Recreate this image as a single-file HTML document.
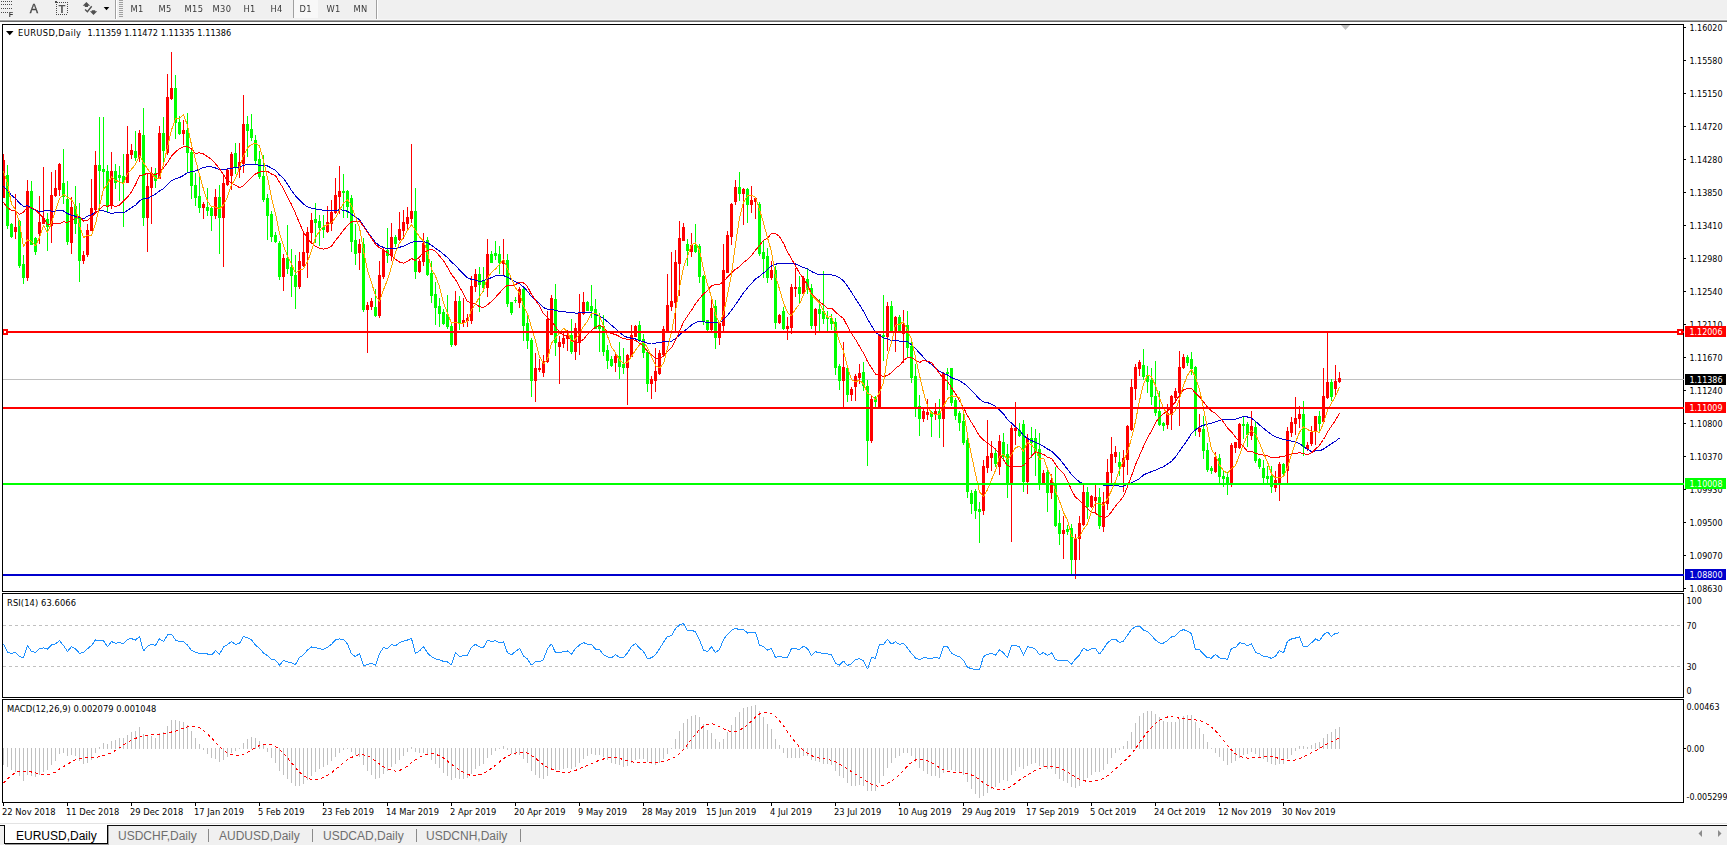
<!DOCTYPE html><html><head><meta charset="utf-8"><title>EURUSD,Daily</title><style>

html,body{margin:0;padding:0;background:#fff;overflow:hidden}
body{width:1727px;height:846px;position:relative;font-family:"Liberation Sans", sans-serif;font-size:9px;color:#000}
#tb{position:absolute;left:0;top:0;width:1727px;height:19px;background:#f0f0f0}
#tbl{position:absolute;left:0;top:19px;width:1727px;height:3px;background:linear-gradient(#f7f7f7 0,#f7f7f7 33.3%,#a6a6a6 33.4%,#a6a6a6 66.6%,#696969 66.7%,#696969 100%)}
.tf{position:absolute;top:3px;height:12px;line-height:12px;font-size:9.250px;color:#3a3a3a;white-space:nowrap;letter-spacing:0.350px;filter:grayscale(1);font-family:"DejaVu Sans Condensed", "Liberation Sans", sans-serif}
.sep{position:absolute;top:0;width:1px;background:#a0a0a0}
#cv{position:absolute;left:0;top:0}
.ax{position:absolute;left:1689.500px;height:12px;line-height:12px;font-size:8.900px;white-space:nowrap;font-family:"DejaVu Sans Condensed", "Liberation Sans", sans-serif}
.ax2{left:1686.500px}
.pb{position:absolute;left:1685px;width:41px;height:11px;line-height:12px;font-size:8.900px;color:#fff;white-space:nowrap;overflow:hidden;font-family:"DejaVu Sans Condensed", "Liberation Sans", sans-serif}
.pb span{display:inline-block;margin-left:4.500px}
.dt{position:absolute;top:806px;height:12px;line-height:12px;font-size:9.250px;white-space:nowrap;letter-spacing:0.020px;font-family:"DejaVu Sans Condensed", "Liberation Sans", sans-serif}
.ttl{position:absolute;height:12px;line-height:12px;font-size:9.250px;white-space:nowrap;font-family:"DejaVu Sans Condensed", "Liberation Sans", sans-serif}
#tabs{position:absolute;left:0;top:826px;width:1727px;height:19px;background:#f0f0f0}
#tabl{position:absolute;left:0;top:825px;width:1727px;height:1px;background:#111}
#tabl0{position:absolute;left:0;top:823px;width:1727px;height:1px;background:#e3e3e3}
#tab1{position:absolute;left:4px;top:825px;width:102px;height:18px;background:#fff;border:1px solid #000;border-top:none;box-shadow:1px 1px 0 #9a9a9a}
.tab{position:absolute;top:829px;height:15px;line-height:15px;font-size:12px;color:#6e6e6e;white-space:nowrap}
.tsep{position:absolute;top:829px;width:1px;height:13px;background:#8a8a8a}

</style></head><body>
<div id="tb"></div><div id="tbl"></div>
<svg id="ico" width="130" height="20" style="position:absolute;left:0;top:0;filter:grayscale(1)" shape-rendering="crispEdges">
<path fill="#4a4a4a" d="M1 1h1v1h-1zM3 1h1v1h-1zM5 1h1v1h-1zM7 1h1v1h-1zM9 1h1v1h-1zM11 1h1v1h-1zM1 4h1v1h-1zM3 4h1v1h-1zM5 4h1v1h-1zM7 4h1v1h-1zM9 4h1v1h-1zM11 4h1v1h-1zM1 8h1v1h-1zM3 8h1v1h-1zM5 8h1v1h-1zM7 8h1v1h-1zM9 8h1v1h-1zM11 8h1v1h-1zM1 12h1v1h-1zM3 12h1v1h-1zM5 12h1v1h-1zM7 12h1v1h-1z"/>
<path fill="#4a4a4a" d="M59 2h1v1h-1zM61 2h1v1h-1zM63 2h1v1h-1zM65 2h1v1h-1zM67 2h1v1h-1zM56 4h1v1h-1zM56 6h1v1h-1zM56 8h1v1h-1zM56 10h1v1h-1zM56 12h1v1h-1zM67 4h1v1h-1zM67 6h1v1h-1zM67 8h1v1h-1zM67 10h1v1h-1zM67 12h1v1h-1zM56 14h1v1h-1zM58 14h1v1h-1zM60 14h1v1h-1zM62 14h1v1h-1zM64 14h1v1h-1zM66 14h1v1h-1zM55 1h2v1h1v1h-3z"/>
<text x="8.800" y="17" font-family="Liberation Sans, sans-serif" font-weight="bold" font-size="7.200" fill="#3c3c3c">F</text>
<text x="62" y="12.900" font-family="Liberation Sans, sans-serif" font-weight="bold" font-size="11.300" text-anchor="middle" fill="#555">T</text>
<g fill="#505050" shape-rendering="auto">
<path d="M86.400 1.900L90.100 5.800H88V7H84.800V5.800H82.700z"/>
<path d="M93.500 15.100L97.200 11.300H95.200V10.200H91.800V11.300H89.900z"/>
<path d="M85.100 9.500l2.300 2.200l4.300 -5.400" stroke="#505050" stroke-width="1.400" fill="none"/>
<path d="M103.700 7h5.600l-2.800 3.200z" fill="#000"/>
</g>
<path fill="#a0a0a0" d="M119 0h4v1h-4zM119 2h4v1h-4zM119 4h4v1h-4zM119 6h4v1h-4zM119 8h4v1h-4zM119 10h4v1h-4zM119 12h4v1h-4zM119 14h4v1h-4zM119 16h4v1h-4z"/>
</svg>
<div class="tf" style="left:29.700px;top:1.500px;font-size:12.500px;height:14px;line-height:14px;color:#484848;-webkit-text-stroke:0.350px #484848;font-family:'Liberation Sans',sans-serif">A</div>
<div class="sep" style="left:115px;height:19px"></div><div class="sep" style="left:116px;height:19px;background:#fff"></div>
<div class="tf" style="left:130.5px">M1</div>
<div class="tf" style="left:158.5px">M5</div>
<div class="tf" style="left:184.5px">M15</div>
<div class="tf" style="left:212.5px">M30</div>
<div class="tf" style="left:243.5px">H1</div>
<div class="tf" style="left:270.5px">H4</div>
<div style="position:absolute;left:294px;top:0;width:24px;height:18px;background:#f8f8f8"></div>
<div class="tf" style="left:299.5px">D1</div>
<div class="tf" style="left:326.5px">W1</div>
<div class="tf" style="left:353.5px">MN</div>
<div class="sep" style="left:293px;height:18px"></div>
<div class="sep" style="left:376px;height:19px"></div><div class="sep" style="left:377px;height:19px;background:#fff"></div>
<svg id="cv" width="1727" height="846" viewBox="0 0 1727 846" shape-rendering="crispEdges">
<rect x="3" y="379" width="1680" height="1" fill="#c0c0c0"/>
<g><path fill="#ff0000" d="M3 154h1v44h-1zM2 160h3v38h-3z"/><path fill="#00ff00" d="M7 165h1v64h-1zM6 175h3v51h-3z"/><path fill="#00ff00" d="M11 223h1v15h-1zM10 224h3v13h-3z"/><path fill="#ff0000" d="M15 194h1v45h-1zM14 227h3v5h-3z"/><path fill="#00ff00" d="M19 220h1v48h-1zM18 221h3v45h-3z"/><path fill="#00ff00" d="M23 255h1v29h-1zM22 264h3v14h-3z"/><path fill="#ff0000" d="M27 180h1v101h-1zM26 191h3v87h-3z"/><path fill="#00ff00" d="M31 181h1v64h-1zM30 191h3v54h-3z"/><path fill="#00ff00" d="M35 237h1v18h-1zM34 238h3v14h-3z"/><path fill="#ff0000" d="M39 196h1v48h-1zM38 222h3v12h-3z"/><path fill="#ff0000" d="M43 167h1v57h-1zM42 218h3v6h-3z"/><path fill="#00ff00" d="M47 213h1v38h-1zM46 219h3v8h-3z"/><path fill="#ff0000" d="M51 172h1v71h-1zM50 195h3v31h-3z"/><path fill="#ff0000" d="M55 170h1v27h-1zM54 188h3v8h-3z"/><path fill="#ff0000" d="M59 163h1v33h-1zM58 164h3v26h-3z"/><path fill="#00ff00" d="M63 149h1v55h-1zM62 183h3v14h-3z"/><path fill="#00ff00" d="M67 181h1v64h-1zM66 199h3v43h-3z"/><path fill="#ff0000" d="M71 197h1v57h-1zM70 207h3v36h-3z"/><path fill="#00ff00" d="M75 186h1v48h-1zM74 206h3v18h-3z"/><path fill="#00ff00" d="M79 203h1v79h-1zM78 218h3v43h-3z"/><path fill="#ff0000" d="M83 251h1v13h-1zM82 255h3v6h-3z"/><path fill="#ff0000" d="M87 224h1v33h-1zM86 230h3v25h-3z"/><path fill="#ff0000" d="M91 179h1v52h-1zM90 208h3v23h-3z"/><path fill="#ff0000" d="M95 151h1v61h-1zM94 165h3v45h-3z"/><path fill="#00ff00" d="M99 117h1v94h-1zM98 165h3v6h-3z"/><path fill="#00ff00" d="M103 117h1v73h-1zM102 169h3v3h-3z"/><path fill="#00ff00" d="M107 165h1v48h-1zM106 171h3v36h-3z"/><path fill="#ff0000" d="M111 152h1v57h-1zM110 171h3v35h-3z"/><path fill="#00ff00" d="M115 164h1v25h-1zM114 171h3v12h-3z"/><path fill="#00ff00" d="M119 166h1v35h-1zM118 175h3v3h-3z"/><path fill="#00ff00" d="M123 154h1v73h-1zM122 176h3v7h-3z"/><path fill="#ff0000" d="M127 126h1v57h-1zM126 154h3v29h-3z"/><path fill="#ff0000" d="M131 144h1v15h-1zM130 150h3v5h-3z"/><path fill="#00ff00" d="M135 131h1v30h-1zM134 151h3v7h-3z"/><path fill="#ff0000" d="M139 130h1v32h-1zM138 133h3v24h-3z"/><path fill="#00ff00" d="M143 108h1v118h-1zM142 135h3v83h-3z"/><path fill="#ff0000" d="M147 174h1v78h-1zM146 186h3v32h-3z"/><path fill="#ff0000" d="M151 167h1v57h-1zM150 173h3v15h-3z"/><path fill="#00ff00" d="M155 168h1v20h-1zM154 173h3v8h-3z"/><path fill="#ff0000" d="M159 126h1v53h-1zM158 133h3v46h-3z"/><path fill="#00ff00" d="M163 117h1v47h-1zM162 133h3v18h-3z"/><path fill="#ff0000" d="M167 74h1v81h-1zM166 97h3v56h-3z"/><path fill="#ff0000" d="M171 52h1v48h-1zM170 88h3v11h-3z"/><path fill="#00ff00" d="M175 75h1v64h-1zM174 88h3v35h-3z"/><path fill="#00ff00" d="M179 116h1v19h-1zM178 122h3v12h-3z"/><path fill="#ff0000" d="M183 120h1v25h-1zM182 130h3v4h-3z"/><path fill="#00ff00" d="M187 113h1v60h-1zM186 130h3v23h-3z"/><path fill="#00ff00" d="M191 150h1v49h-1zM190 152h3v34h-3z"/><path fill="#00ff00" d="M195 173h1v33h-1zM194 185h3v13h-3z"/><path fill="#00ff00" d="M199 175h1v38h-1zM198 196h3v12h-3z"/><path fill="#ff0000" d="M203 202h1v17h-1zM202 204h3v4h-3z"/><path fill="#00ff00" d="M207 188h1v28h-1zM206 207h3v4h-3z"/><path fill="#00ff00" d="M211 206h1v25h-1zM210 208h3v8h-3z"/><path fill="#ff0000" d="M215 189h1v30h-1zM214 197h3v19h-3z"/><path fill="#00ff00" d="M219 185h1v69h-1zM218 197h3v21h-3z"/><path fill="#ff0000" d="M223 174h1v93h-1zM222 183h3v35h-3z"/><path fill="#ff0000" d="M227 168h1v18h-1zM226 170h3v15h-3z"/><path fill="#ff0000" d="M231 152h1v38h-1zM230 154h3v22h-3z"/><path fill="#00ff00" d="M235 143h1v31h-1zM234 153h3v15h-3z"/><path fill="#ff0000" d="M239 143h1v35h-1zM238 162h3v8h-3z"/><path fill="#ff0000" d="M243 95h1v78h-1zM242 124h3v40h-3z"/><path fill="#00ff00" d="M247 116h1v41h-1zM246 124h3v7h-3z"/><path fill="#00ff00" d="M251 114h1v27h-1zM250 129h3v9h-3z"/><path fill="#00ff00" d="M255 135h1v29h-1zM254 140h3v21h-3z"/><path fill="#00ff00" d="M259 151h1v28h-1zM258 159h3v18h-3z"/><path fill="#00ff00" d="M263 155h1v47h-1zM262 176h3v24h-3z"/><path fill="#00ff00" d="M267 194h1v46h-1zM266 198h3v18h-3z"/><path fill="#00ff00" d="M271 211h1v31h-1zM270 214h3v23h-3z"/><path fill="#00ff00" d="M275 232h1v11h-1zM274 235h3v7h-3z"/><path fill="#00ff00" d="M279 241h1v39h-1zM278 243h3v34h-3z"/><path fill="#ff0000" d="M283 254h1v37h-1zM282 258h3v19h-3z"/><path fill="#00ff00" d="M287 225h1v49h-1zM286 258h3v11h-3z"/><path fill="#00ff00" d="M291 249h1v48h-1zM290 267h3v9h-3z"/><path fill="#00ff00" d="M295 255h1v54h-1zM294 275h3v12h-3z"/><path fill="#ff0000" d="M299 252h1v37h-1zM298 261h3v26h-3z"/><path fill="#ff0000" d="M303 231h1v36h-1zM302 252h3v14h-3z"/><path fill="#ff0000" d="M307 227h1v51h-1zM306 232h3v21h-3z"/><path fill="#ff0000" d="M311 213h1v30h-1zM310 220h3v13h-3z"/><path fill="#00ff00" d="M315 203h1v40h-1zM314 219h3v4h-3z"/><path fill="#00ff00" d="M319 215h1v31h-1zM318 221h3v7h-3z"/><path fill="#00ff00" d="M323 215h1v23h-1zM322 227h3v3h-3z"/><path fill="#ff0000" d="M327 206h1v27h-1zM326 222h3v10h-3z"/><path fill="#ff0000" d="M331 200h1v31h-1zM330 212h3v12h-3z"/><path fill="#ff0000" d="M335 178h1v36h-1zM334 195h3v18h-3z"/><path fill="#ff0000" d="M339 166h1v48h-1zM338 191h3v6h-3z"/><path fill="#00ff00" d="M343 174h1v44h-1zM342 191h3v2h-3z"/><path fill="#00ff00" d="M347 190h1v28h-1zM346 191h3v16h-3z"/><path fill="#00ff00" d="M351 195h1v57h-1zM350 198h3v44h-3z"/><path fill="#00ff00" d="M355 224h1v41h-1zM354 240h3v14h-3z"/><path fill="#ff0000" d="M359 239h1v31h-1zM358 244h3v9h-3z"/><path fill="#00ff00" d="M363 238h1v74h-1zM362 244h3v66h-3z"/><path fill="#ff0000" d="M367 302h1v51h-1zM366 305h3v5h-3z"/><path fill="#ff0000" d="M371 298h1v12h-1zM370 301h3v6h-3z"/><path fill="#00ff00" d="M375 289h1v28h-1zM374 307h3v9h-3z"/><path fill="#ff0000" d="M379 261h1v57h-1zM378 275h3v41h-3z"/><path fill="#ff0000" d="M383 248h1v31h-1zM382 250h3v27h-3z"/><path fill="#00ff00" d="M387 228h1v35h-1zM386 250h3v6h-3z"/><path fill="#ff0000" d="M391 223h1v38h-1zM390 237h3v19h-3z"/><path fill="#00ff00" d="M395 235h1v12h-1zM394 237h3v7h-3z"/><path fill="#ff0000" d="M399 212h1v29h-1zM398 229h3v11h-3z"/><path fill="#ff0000" d="M403 210h1v29h-1zM402 222h3v9h-3z"/><path fill="#ff0000" d="M407 207h1v22h-1zM406 217h3v7h-3z"/><path fill="#ff0000" d="M411 144h1v79h-1zM410 211h3v8h-3z"/><path fill="#00ff00" d="M415 188h1v91h-1zM414 211h3v61h-3z"/><path fill="#ff0000" d="M419 259h1v14h-1zM418 261h3v11h-3z"/><path fill="#ff0000" d="M423 233h1v33h-1zM422 243h3v19h-3z"/><path fill="#00ff00" d="M427 237h1v39h-1zM426 240h3v35h-3z"/><path fill="#00ff00" d="M431 261h1v42h-1zM430 273h3v23h-3z"/><path fill="#00ff00" d="M435 282h1v43h-1zM434 294h3v14h-3z"/><path fill="#00ff00" d="M439 298h1v29h-1zM438 306h3v8h-3z"/><path fill="#00ff00" d="M443 309h1v16h-1zM442 312h3v12h-3z"/><path fill="#00ff00" d="M447 295h1v34h-1zM446 314h3v13h-3z"/><path fill="#00ff00" d="M451 323h1v24h-1zM450 326h3v19h-3z"/><path fill="#ff0000" d="M455 291h1v55h-1zM454 301h3v44h-3z"/><path fill="#00ff00" d="M459 296h1v34h-1zM458 301h3v22h-3z"/><path fill="#ff0000" d="M463 298h1v29h-1zM462 320h3v3h-3z"/><path fill="#ff0000" d="M467 314h1v13h-1zM466 318h3v3h-3z"/><path fill="#ff0000" d="M471 276h1v48h-1zM470 286h3v35h-3z"/><path fill="#ff0000" d="M475 269h1v23h-1zM474 274h3v13h-3z"/><path fill="#00ff00" d="M479 267h1v45h-1zM478 274h3v11h-3z"/><path fill="#00ff00" d="M483 267h1v25h-1zM482 281h3v7h-3z"/><path fill="#ff0000" d="M487 239h1v58h-1zM486 254h3v34h-3z"/><path fill="#00ff00" d="M491 251h1v12h-1zM490 254h3v9h-3z"/><path fill="#00ff00" d="M495 241h1v19h-1zM494 253h3v3h-3z"/><path fill="#00ff00" d="M499 246h1v28h-1zM498 254h3v9h-3z"/><path fill="#ff0000" d="M503 239h1v36h-1zM502 260h3v4h-3z"/><path fill="#00ff00" d="M507 254h1v53h-1zM506 260h3v44h-3z"/><path fill="#00ff00" d="M511 302h1v13h-1zM510 302h3v11h-3z"/><path fill="#00ff00" d="M515 297h1v6h-1zM514 300h3v1h-3z"/><path fill="#ff0000" d="M519 287h1v21h-1zM518 289h3v14h-3z"/><path fill="#00ff00" d="M523 287h1v54h-1zM522 289h3v37h-3z"/><path fill="#00ff00" d="M527 314h1v35h-1zM526 323h3v18h-3z"/><path fill="#00ff00" d="M531 338h1v59h-1zM530 340h3v41h-3z"/><path fill="#ff0000" d="M535 353h1v49h-1zM534 368h3v13h-3z"/><path fill="#ff0000" d="M539 359h1v13h-1zM538 368h3v2h-3z"/><path fill="#ff0000" d="M543 355h1v22h-1zM542 361h3v12h-3z"/><path fill="#ff0000" d="M547 311h1v52h-1zM546 319h3v43h-3z"/><path fill="#ff0000" d="M551 295h1v40h-1zM550 298h3v37h-3z"/><path fill="#00ff00" d="M555 284h1v72h-1zM554 299h3v44h-3z"/><path fill="#ff0000" d="M559 336h1v48h-1zM558 342h3v5h-3z"/><path fill="#ff0000" d="M563 333h1v15h-1zM562 338h3v6h-3z"/><path fill="#ff0000" d="M567 330h1v21h-1zM566 335h3v4h-3z"/><path fill="#00ff00" d="M571 319h1v35h-1zM570 335h3v17h-3z"/><path fill="#ff0000" d="M575 323h1v37h-1zM574 328h3v24h-3z"/><path fill="#ff0000" d="M579 294h1v61h-1zM578 313h3v30h-3z"/><path fill="#ff0000" d="M583 292h1v23h-1zM582 302h3v12h-3z"/><path fill="#00ff00" d="M587 301h1v10h-1zM586 302h3v9h-3z"/><path fill="#00ff00" d="M591 285h1v33h-1zM590 306h3v5h-3z"/><path fill="#00ff00" d="M595 299h1v30h-1zM594 309h3v20h-3z"/><path fill="#00ff00" d="M599 313h1v39h-1zM598 326h3v3h-3z"/><path fill="#00ff00" d="M603 315h1v41h-1zM602 326h3v26h-3z"/><path fill="#00ff00" d="M607 345h1v24h-1zM606 350h3v11h-3z"/><path fill="#00ff00" d="M611 356h1v11h-1zM610 359h3v7h-3z"/><path fill="#ff0000" d="M615 353h1v19h-1zM614 356h3v7h-3z"/><path fill="#00ff00" d="M619 342h1v37h-1zM618 356h3v11h-3z"/><path fill="#00ff00" d="M623 348h1v26h-1zM622 364h3v4h-3z"/><path fill="#ff0000" d="M627 354h1v51h-1zM626 355h3v13h-3z"/><path fill="#ff0000" d="M631 325h1v32h-1zM630 335h3v22h-3z"/><path fill="#ff0000" d="M635 325h1v12h-1zM634 326h3v11h-3z"/><path fill="#00ff00" d="M639 321h1v21h-1zM638 325h3v16h-3z"/><path fill="#00ff00" d="M643 334h1v24h-1zM642 339h3v14h-3z"/><path fill="#00ff00" d="M647 350h1v42h-1zM646 352h3v32h-3z"/><path fill="#ff0000" d="M651 376h1v23h-1zM650 379h3v5h-3z"/><path fill="#ff0000" d="M655 348h1v44h-1zM654 371h3v10h-3z"/><path fill="#ff0000" d="M659 350h1v25h-1zM658 353h3v21h-3z"/><path fill="#ff0000" d="M663 326h1v31h-1zM662 329h3v26h-3z"/><path fill="#ff0000" d="M667 274h1v59h-1zM666 305h3v26h-3z"/><path fill="#ff0000" d="M671 252h1v59h-1zM670 301h3v6h-3z"/><path fill="#ff0000" d="M675 250h1v83h-1zM674 262h3v41h-3z"/><path fill="#ff0000" d="M679 221h1v75h-1zM678 238h3v26h-3z"/><path fill="#ff0000" d="M683 223h1v18h-1zM682 227h3v14h-3z"/><path fill="#00ff00" d="M687 239h1v27h-1zM686 244h3v7h-3z"/><path fill="#ff0000" d="M691 233h1v24h-1zM690 245h3v7h-3z"/><path fill="#00ff00" d="M695 224h1v29h-1zM694 245h3v7h-3z"/><path fill="#00ff00" d="M699 244h1v39h-1zM698 246h3v31h-3z"/><path fill="#00ff00" d="M703 275h1v50h-1zM702 276h3v45h-3z"/><path fill="#00ff00" d="M707 320h1v12h-1zM706 320h3v10h-3z"/><path fill="#ff0000" d="M711 299h1v32h-1zM710 308h3v22h-3z"/><path fill="#00ff00" d="M715 300h1v49h-1zM714 306h3v32h-3z"/><path fill="#ff0000" d="M719 322h1v23h-1zM718 323h3v15h-3z"/><path fill="#ff0000" d="M723 244h1v87h-1zM722 270h3v56h-3z"/><path fill="#ff0000" d="M727 231h1v42h-1zM726 235h3v38h-3z"/><path fill="#ff0000" d="M731 203h1v42h-1zM730 204h3v33h-3z"/><path fill="#ff0000" d="M735 180h1v25h-1zM734 187h3v15h-3z"/><path fill="#00ff00" d="M739 172h1v29h-1zM738 187h3v7h-3z"/><path fill="#ff0000" d="M743 188h1v37h-1zM742 189h3v5h-3z"/><path fill="#00ff00" d="M747 188h1v35h-1zM746 189h3v16h-3z"/><path fill="#ff0000" d="M751 186h1v27h-1zM750 200h3v5h-3z"/><path fill="#ff0000" d="M755 197h1v22h-1zM754 198h3v4h-3z"/><path fill="#00ff00" d="M759 202h1v54h-1zM758 204h3v50h-3z"/><path fill="#00ff00" d="M763 241h1v37h-1zM762 252h3v7h-3z"/><path fill="#00ff00" d="M767 248h1v35h-1zM766 256h3v22h-3z"/><path fill="#ff0000" d="M771 261h1v19h-1zM770 270h3v8h-3z"/><path fill="#00ff00" d="M775 266h1v63h-1zM774 270h3v53h-3z"/><path fill="#ff0000" d="M779 314h1v10h-1zM778 315h3v8h-3z"/><path fill="#00ff00" d="M783 307h1v23h-1zM782 311h3v18h-3z"/><path fill="#ff0000" d="M787 317h1v23h-1zM786 326h3v3h-3z"/><path fill="#ff0000" d="M791 284h1v50h-1zM790 287h3v41h-3z"/><path fill="#ff0000" d="M795 268h1v29h-1zM794 287h3v2h-3z"/><path fill="#00ff00" d="M799 276h1v28h-1zM798 287h3v7h-3z"/><path fill="#ff0000" d="M803 276h1v19h-1zM802 278h3v16h-3z"/><path fill="#00ff00" d="M807 269h1v25h-1zM806 279h3v11h-3z"/><path fill="#00ff00" d="M811 284h1v45h-1zM810 288h3v38h-3z"/><path fill="#ff0000" d="M815 308h1v27h-1zM814 309h3v17h-3z"/><path fill="#00ff00" d="M819 299h1v32h-1zM818 309h3v5h-3z"/><path fill="#00ff00" d="M823 271h1v53h-1zM822 311h3v8h-3z"/><path fill="#00ff00" d="M827 311h1v21h-1zM826 317h3v2h-3z"/><path fill="#00ff00" d="M831 314h1v16h-1zM830 318h3v6h-3z"/><path fill="#00ff00" d="M835 318h1v57h-1zM834 322h3v46h-3z"/><path fill="#00ff00" d="M839 364h1v26h-1zM838 366h3v15h-3z"/><path fill="#ff0000" d="M843 342h1v66h-1zM842 367h3v14h-3z"/><path fill="#00ff00" d="M847 366h1v36h-1zM846 368h3v27h-3z"/><path fill="#ff0000" d="M851 387h1v14h-1zM850 389h3v6h-3z"/><path fill="#ff0000" d="M855 374h1v27h-1zM854 376h3v11h-3z"/><path fill="#ff0000" d="M859 364h1v20h-1zM858 373h3v5h-3z"/><path fill="#00ff00" d="M863 362h1v29h-1zM862 372h3v14h-3z"/><path fill="#00ff00" d="M867 380h1v86h-1zM866 386h3v55h-3z"/><path fill="#ff0000" d="M871 396h1v47h-1zM870 399h3v42h-3z"/><path fill="#00ff00" d="M875 396h1v12h-1zM874 397h3v5h-3z"/><path fill="#ff0000" d="M879 334h1v74h-1zM878 334h3v73h-3z"/><path fill="#00ff00" d="M883 295h1v66h-1zM882 335h3v2h-3z"/><path fill="#ff0000" d="M887 302h1v49h-1zM886 306h3v31h-3z"/><path fill="#00ff00" d="M891 301h1v31h-1zM890 306h3v25h-3z"/><path fill="#ff0000" d="M895 316h1v36h-1zM894 317h3v15h-3z"/><path fill="#00ff00" d="M899 315h1v17h-1zM898 317h3v14h-3z"/><path fill="#ff0000" d="M903 310h1v53h-1zM902 324h3v10h-3z"/><path fill="#00ff00" d="M907 311h1v46h-1zM906 325h3v23h-3z"/><path fill="#00ff00" d="M911 341h1v42h-1zM910 346h3v32h-3z"/><path fill="#00ff00" d="M915 364h1v53h-1zM914 376h3v32h-3z"/><path fill="#00ff00" d="M919 395h1v41h-1zM918 406h3v13h-3z"/><path fill="#ff0000" d="M923 408h1v14h-1zM922 411h3v8h-3z"/><path fill="#ff0000" d="M927 399h1v21h-1zM926 412h3v3h-3z"/><path fill="#00ff00" d="M931 411h1v26h-1zM930 412h3v5h-3z"/><path fill="#ff0000" d="M935 403h1v17h-1zM934 411h3v4h-3z"/><path fill="#00ff00" d="M939 399h1v39h-1zM938 411h3v8h-3z"/><path fill="#ff0000" d="M943 372h1v75h-1zM942 373h3v46h-3z"/><path fill="#00ff00" d="M947 368h1v22h-1zM946 372h3v2h-3z"/><path fill="#00ff00" d="M951 368h1v38h-1zM950 368h3v35h-3z"/><path fill="#00ff00" d="M955 398h1v22h-1zM954 400h3v16h-3z"/><path fill="#00ff00" d="M959 411h1v20h-1zM958 413h3v10h-3z"/><path fill="#00ff00" d="M963 414h1v31h-1zM962 421h3v22h-3z"/><path fill="#00ff00" d="M967 438h1v60h-1zM966 440h3v52h-3z"/><path fill="#00ff00" d="M971 490h1v24h-1zM970 493h3v11h-3z"/><path fill="#00ff00" d="M975 489h1v30h-1zM974 491h3v20h-3z"/><path fill="#00ff00" d="M979 502h1v41h-1zM978 509h3v3h-3z"/><path fill="#ff0000" d="M983 460h1v55h-1zM982 466h3v45h-3z"/><path fill="#ff0000" d="M987 420h1v53h-1zM986 456h3v12h-3z"/><path fill="#ff0000" d="M991 441h1v30h-1zM990 453h3v5h-3z"/><path fill="#00ff00" d="M995 449h1v18h-1zM994 453h3v11h-3z"/><path fill="#ff0000" d="M999 435h1v40h-1zM998 441h3v26h-3z"/><path fill="#00ff00" d="M1003 433h1v28h-1zM1002 442h3v15h-3z"/><path fill="#00ff00" d="M1007 444h1v54h-1zM1006 454h3v30h-3z"/><path fill="#ff0000" d="M1011 425h1v117h-1zM1010 428h3v56h-3z"/><path fill="#ff0000" d="M1015 402h1v43h-1zM1014 428h3v3h-3z"/><path fill="#00ff00" d="M1019 423h1v14h-1zM1018 430h3v6h-3z"/><path fill="#00ff00" d="M1023 420h1v72h-1zM1022 424h3v58h-3z"/><path fill="#ff0000" d="M1027 434h1v60h-1zM1026 438h3v44h-3z"/><path fill="#00ff00" d="M1031 427h1v31h-1zM1030 438h3v5h-3z"/><path fill="#00ff00" d="M1035 429h1v47h-1zM1034 438h3v14h-3z"/><path fill="#00ff00" d="M1039 433h1v57h-1zM1038 449h3v36h-3z"/><path fill="#ff0000" d="M1043 470h1v15h-1zM1042 473h3v11h-3z"/><path fill="#00ff00" d="M1047 470h1v42h-1zM1046 472h3v21h-3z"/><path fill="#ff0000" d="M1051 474h1v25h-1zM1050 480h3v13h-3z"/><path fill="#00ff00" d="M1055 467h1v60h-1zM1054 485h3v41h-3z"/><path fill="#00ff00" d="M1059 510h1v35h-1zM1058 523h3v11h-3z"/><path fill="#ff0000" d="M1063 516h1v43h-1zM1062 530h3v4h-3z"/><path fill="#00ff00" d="M1067 525h1v10h-1zM1066 529h3v3h-3z"/><path fill="#00ff00" d="M1071 524h1v50h-1zM1070 528h3v32h-3z"/><path fill="#ff0000" d="M1075 534h1v45h-1zM1074 538h3v22h-3z"/><path fill="#ff0000" d="M1079 516h1v44h-1zM1078 523h3v16h-3z"/><path fill="#ff0000" d="M1083 485h1v41h-1zM1082 492h3v33h-3z"/><path fill="#00ff00" d="M1087 487h1v32h-1zM1086 492h3v15h-3z"/><path fill="#ff0000" d="M1091 495h1v13h-1zM1090 496h3v11h-3z"/><path fill="#ff0000" d="M1095 485h1v29h-1zM1094 497h3v4h-3z"/><path fill="#00ff00" d="M1099 488h1v41h-1zM1098 497h3v29h-3z"/><path fill="#ff0000" d="M1103 492h1v40h-1zM1102 502h3v25h-3z"/><path fill="#ff0000" d="M1107 459h1v51h-1zM1106 472h3v32h-3z"/><path fill="#ff0000" d="M1111 437h1v47h-1zM1110 454h3v19h-3z"/><path fill="#ff0000" d="M1115 446h1v17h-1zM1114 452h3v5h-3z"/><path fill="#00ff00" d="M1119 452h1v24h-1zM1118 462h3v5h-3z"/><path fill="#ff0000" d="M1123 450h1v42h-1zM1122 458h3v9h-3z"/><path fill="#ff0000" d="M1127 425h1v50h-1zM1126 426h3v34h-3z"/><path fill="#ff0000" d="M1131 379h1v52h-1zM1130 387h3v43h-3z"/><path fill="#ff0000" d="M1135 364h1v36h-1zM1134 367h3v22h-3z"/><path fill="#ff0000" d="M1139 360h1v16h-1zM1138 362h3v7h-3z"/><path fill="#00ff00" d="M1143 349h1v31h-1zM1142 365h3v12h-3z"/><path fill="#00ff00" d="M1147 366h1v27h-1zM1146 375h3v7h-3z"/><path fill="#00ff00" d="M1151 368h1v37h-1zM1150 380h3v17h-3z"/><path fill="#00ff00" d="M1155 361h1v55h-1zM1154 396h3v17h-3z"/><path fill="#00ff00" d="M1159 391h1v35h-1zM1158 411h3v14h-3z"/><path fill="#00ff00" d="M1163 422h1v9h-1zM1162 423h3v3h-3z"/><path fill="#ff0000" d="M1167 404h1v25h-1zM1166 413h3v12h-3z"/><path fill="#ff0000" d="M1171 395h1v35h-1zM1170 396h3v19h-3z"/><path fill="#ff0000" d="M1175 388h1v15h-1zM1174 391h3v7h-3z"/><path fill="#ff0000" d="M1179 351h1v75h-1zM1178 367h3v26h-3z"/><path fill="#ff0000" d="M1183 354h1v15h-1zM1182 357h3v11h-3z"/><path fill="#00ff00" d="M1187 355h1v11h-1zM1186 357h3v6h-3z"/><path fill="#00ff00" d="M1191 352h1v23h-1zM1190 359h3v10h-3z"/><path fill="#00ff00" d="M1195 366h1v70h-1zM1194 367h3v63h-3z"/><path fill="#ff0000" d="M1199 414h1v23h-1zM1198 428h3v4h-3z"/><path fill="#00ff00" d="M1203 416h1v43h-1zM1202 429h3v22h-3z"/><path fill="#00ff00" d="M1207 443h1v29h-1zM1206 450h3v20h-3z"/><path fill="#00ff00" d="M1211 466h1v8h-1zM1210 468h3v3h-3z"/><path fill="#ff0000" d="M1215 452h1v21h-1zM1214 457h3v15h-3z"/><path fill="#00ff00" d="M1219 454h1v30h-1zM1218 458h3v19h-3z"/><path fill="#00ff00" d="M1223 470h1v17h-1zM1222 476h3v3h-3z"/><path fill="#00ff00" d="M1227 472h1v23h-1zM1226 477h3v7h-3z"/><path fill="#ff0000" d="M1231 443h1v44h-1zM1230 445h3v39h-3z"/><path fill="#ff0000" d="M1235 442h1v11h-1zM1234 442h3v6h-3z"/><path fill="#ff0000" d="M1239 423h1v26h-1zM1238 424h3v24h-3z"/><path fill="#00ff00" d="M1243 417h1v22h-1zM1242 424h3v2h-3z"/><path fill="#00ff00" d="M1247 422h1v25h-1zM1246 424h3v11h-3z"/><path fill="#ff0000" d="M1251 411h1v29h-1zM1250 426h3v10h-3z"/><path fill="#00ff00" d="M1255 421h1v42h-1zM1254 427h3v34h-3z"/><path fill="#00ff00" d="M1259 458h1v11h-1zM1258 459h3v8h-3z"/><path fill="#00ff00" d="M1263 460h1v24h-1zM1262 468h3v10h-3z"/><path fill="#00ff00" d="M1267 466h1v17h-1zM1266 476h3v3h-3z"/><path fill="#00ff00" d="M1271 466h1v27h-1zM1270 476h3v11h-3z"/><path fill="#ff0000" d="M1275 471h1v21h-1zM1274 480h3v8h-3z"/><path fill="#ff0000" d="M1279 462h1v39h-1zM1278 464h3v19h-3z"/><path fill="#00ff00" d="M1283 463h1v12h-1zM1282 464h3v10h-3z"/><path fill="#ff0000" d="M1287 427h1v57h-1zM1286 431h3v40h-3z"/><path fill="#ff0000" d="M1291 417h1v20h-1zM1290 422h3v11h-3z"/><path fill="#ff0000" d="M1295 397h1v38h-1zM1294 418h3v6h-3z"/><path fill="#ff0000" d="M1299 406h1v22h-1zM1298 414h3v5h-3z"/><path fill="#00ff00" d="M1303 401h1v55h-1zM1302 414h3v33h-3z"/><path fill="#ff0000" d="M1307 442h1v9h-1zM1306 445h3v4h-3z"/><path fill="#ff0000" d="M1311 426h1v20h-1zM1310 432h3v12h-3z"/><path fill="#ff0000" d="M1315 416h1v29h-1zM1314 416h3v16h-3z"/><path fill="#00ff00" d="M1319 411h1v22h-1zM1318 416h3v8h-3z"/><path fill="#ff0000" d="M1323 368h1v55h-1zM1322 396h3v26h-3z"/><path fill="#ff0000" d="M1327 332h1v67h-1zM1326 382h3v16h-3z"/><path fill="#00ff00" d="M1331 379h1v22h-1zM1330 382h3v15h-3z"/><path fill="#ff0000" d="M1335 365h1v30h-1zM1334 381h3v8h-3z"/><path fill="#ff0000" d="M1339 372h1v11h-1zM1338 378h3v4h-3z"/></g>
<polyline points="3.5,186.2 7.5,190.6 11.5,195.3 15.5,198.5 19.5,203.1 23.5,206.2 27.5,205.9 31.5,208.1 35.5,210.5 39.5,211.2 43.5,211.1 47.5,210.4 51.5,211.1 55.5,211.0 59.5,210.2 63.5,210.9 67.5,213.6 71.5,215.4 75.5,216.2 79.5,217.6 83.5,218.8 87.5,216.2 91.5,214.7 95.5,212.2 99.5,210.3 103.5,210.7 107.5,212.2 111.5,213.4 115.5,212.8 119.5,212.1 123.5,212.8 127.5,210.4 131.5,207.6 135.5,205.3 139.5,200.8 143.5,198.9 147.5,198.7 151.5,196.3 155.5,194.0 159.5,191.0 163.5,188.7 167.5,184.4 171.5,180.8 175.5,178.7 179.5,177.6 183.5,175.4 187.5,172.4 191.5,171.7 195.5,170.9 199.5,169.1 203.5,167.4 207.5,166.7 211.5,166.9 215.5,168.0 219.5,169.6 223.5,170.0 227.5,168.8 231.5,168.3 235.5,167.7 239.5,167.3 243.5,165.3 247.5,164.5 251.5,164.1 255.5,164.2 259.5,165.6 263.5,165.0 267.5,166.0 271.5,168.1 275.5,170.1 279.5,174.9 283.5,178.5 287.5,184.2 291.5,190.4 295.5,195.9 299.5,200.2 303.5,204.2 307.5,206.9 311.5,208.1 315.5,208.9 319.5,209.6 323.5,210.4 327.5,210.8 331.5,210.7 335.5,210.7 339.5,209.8 343.5,210.1 347.5,211.3 351.5,214.2 355.5,217.0 359.5,219.8 363.5,225.9 367.5,231.8 371.5,237.2 375.5,242.4 379.5,245.7 383.5,247.4 387.5,248.8 391.5,248.8 395.5,248.9 399.5,247.3 403.5,246.1 407.5,244.4 411.5,242.2 415.5,241.8 419.5,241.7 423.5,241.4 427.5,242.8 431.5,245.3 435.5,248.2 439.5,251.0 443.5,254.2 447.5,257.6 451.5,262.0 455.5,265.6 459.5,269.9 463.5,274.2 467.5,277.9 471.5,279.4 475.5,280.1 479.5,281.5 483.5,280.7 487.5,279.0 491.5,277.7 495.5,275.7 499.5,275.3 503.5,275.6 507.5,277.2 511.5,279.7 515.5,281.6 519.5,283.6 523.5,287.1 527.5,291.2 531.5,296.8 535.5,300.0 539.5,303.6 543.5,307.6 547.5,309.1 551.5,309.2 555.5,310.3 559.5,311.3 563.5,311.8 567.5,312.1 571.5,312.3 575.5,313.2 579.5,312.9 583.5,312.3 587.5,312.1 591.5,312.9 595.5,314.7 599.5,316.1 603.5,318.3 607.5,321.8 611.5,325.3 615.5,328.6 619.5,332.1 623.5,335.7 627.5,337.4 631.5,338.2 635.5,339.0 639.5,340.7 643.5,341.6 647.5,343.1 651.5,343.0 655.5,343.1 659.5,342.7 663.5,341.6 667.5,341.1 671.5,341.2 675.5,338.6 679.5,335.1 683.5,331.4 687.5,328.6 691.5,325.1 695.5,322.5 699.5,321.2 703.5,321.8 707.5,322.5 711.5,322.4 715.5,322.7 719.5,322.5 723.5,319.8 727.5,315.6 731.5,310.3 735.5,304.6 739.5,298.9 743.5,292.9 747.5,287.9 751.5,283.4 755.5,279.1 759.5,276.2 763.5,273.1 767.5,269.6 771.5,265.9 775.5,264.3 779.5,263.1 783.5,263.0 787.5,263.7 791.5,263.2 795.5,264.0 799.5,265.8 803.5,267.5 807.5,268.8 811.5,271.5 815.5,273.4 819.5,274.7 823.5,274.6 827.5,274.2 831.5,274.8 835.5,275.8 839.5,277.7 843.5,280.9 847.5,286.2 851.5,292.3 855.5,298.7 859.5,304.7 863.5,311.2 867.5,319.1 871.5,325.7 875.5,332.5 879.5,335.2 883.5,337.8 887.5,338.8 891.5,340.8 895.5,340.6 899.5,341.1 903.5,341.0 907.5,341.7 911.5,344.7 915.5,348.7 919.5,352.9 923.5,357.3 927.5,361.4 931.5,364.5 935.5,367.9 939.5,371.4 943.5,373.2 947.5,375.0 951.5,377.6 955.5,379.2 959.5,380.7 963.5,383.2 967.5,386.4 971.5,390.2 975.5,394.6 979.5,399.2 983.5,401.9 987.5,402.5 991.5,404.3 995.5,406.3 999.5,409.9 1003.5,413.9 1007.5,419.8 1011.5,423.1 1015.5,426.8 1019.5,430.2 1023.5,435.5 1027.5,438.5 1031.5,440.6 1035.5,442.1 1039.5,444.3 1043.5,446.3 1047.5,449.0 1051.5,451.1 1055.5,454.9 1059.5,458.8 1063.5,464.0 1067.5,469.3 1071.5,474.5 1075.5,478.6 1079.5,482.0 1083.5,483.6 1087.5,484.1 1091.5,483.9 1095.5,483.5 1099.5,483.9 1103.5,485.1 1107.5,485.6 1111.5,485.7 1115.5,485.3 1119.5,486.1 1123.5,486.2 1127.5,484.3 1131.5,483.0 1135.5,480.9 1139.5,478.5 1143.5,475.0 1147.5,473.1 1151.5,471.6 1155.5,470.3 1159.5,468.3 1163.5,466.7 1167.5,464.1 1171.5,461.3 1175.5,456.8 1179.5,451.3 1183.5,445.5 1187.5,439.9 1191.5,433.5 1195.5,429.9 1199.5,426.7 1203.5,425.3 1207.5,424.1 1211.5,423.2 1215.5,421.9 1219.5,420.3 1223.5,419.5 1227.5,419.9 1231.5,419.6 1235.5,419.3 1239.5,417.8 1243.5,416.7 1247.5,417.0 1251.5,418.3 1255.5,421.4 1259.5,424.9 1263.5,428.2 1267.5,431.5 1271.5,434.5 1275.5,436.8 1279.5,438.1 1283.5,439.7 1287.5,440.3 1291.5,441.2 1295.5,442.1 1299.5,443.6 1303.5,446.6 1307.5,449.4 1311.5,451.5 1315.5,451.0 1319.5,450.9 1323.5,449.1 1327.5,446.2 1331.5,443.7 1335.5,441.2 1339.5,437.9" fill="none" stroke="#0000cd" stroke-width="1" stroke-linejoin="bevel"/>
<polyline points="3.5,202.4 7.5,207.7 11.5,210.4 15.5,210.9 19.5,214.2 23.5,212.0 27.5,207.5 31.5,207.8 35.5,209.7 39.5,214.1 43.5,218.1 47.5,224.7 51.5,224.3 55.5,223.6 59.5,223.9 63.5,221.9 67.5,222.2 71.5,220.8 75.5,217.8 79.5,216.5 83.5,221.1 87.5,220.2 91.5,217.1 95.5,213.0 99.5,209.6 103.5,205.6 107.5,206.3 111.5,205.1 115.5,206.4 119.5,205.0 123.5,200.8 127.5,197.0 131.5,191.8 135.5,184.5 139.5,175.8 143.5,174.8 147.5,173.2 151.5,173.8 155.5,174.6 159.5,171.9 163.5,167.9 167.5,162.6 171.5,155.9 175.5,152.0 179.5,148.5 183.5,146.8 187.5,146.9 191.5,148.9 195.5,153.5 199.5,152.8 203.5,154.0 207.5,156.7 211.5,159.2 215.5,163.8 219.5,168.6 223.5,174.7 227.5,180.6 231.5,182.9 235.5,185.3 239.5,187.6 243.5,185.6 247.5,181.6 251.5,177.4 255.5,174.0 259.5,172.1 263.5,171.3 267.5,171.2 271.5,174.0 275.5,175.7 279.5,182.4 283.5,188.6 287.5,196.8 291.5,204.5 295.5,213.4 299.5,223.2 303.5,231.9 307.5,238.7 311.5,242.9 315.5,246.2 319.5,248.2 323.5,249.2 327.5,248.3 331.5,246.2 335.5,240.4 339.5,235.6 343.5,230.2 347.5,225.3 351.5,222.0 355.5,221.4 359.5,220.9 363.5,226.4 367.5,232.5 371.5,238.1 375.5,244.4 379.5,247.7 383.5,249.7 387.5,252.7 391.5,255.7 395.5,259.4 399.5,262.1 403.5,263.2 407.5,261.5 411.5,258.5 415.5,260.5 419.5,257.0 423.5,252.5 427.5,250.6 431.5,249.1 435.5,251.4 439.5,255.9 443.5,260.8 447.5,267.2 451.5,274.4 455.5,279.6 459.5,286.7 463.5,294.1 467.5,301.7 471.5,302.8 475.5,303.7 479.5,306.7 483.5,307.6 487.5,304.7 491.5,301.5 495.5,297.3 499.5,293.0 503.5,288.2 507.5,285.3 511.5,286.0 515.5,284.5 519.5,282.3 523.5,282.8 527.5,286.7 531.5,294.3 535.5,300.2 539.5,306.0 543.5,313.7 547.5,317.8 551.5,320.8 555.5,326.5 559.5,332.4 563.5,334.9 567.5,336.6 571.5,340.2 575.5,343.0 579.5,342.2 583.5,339.4 587.5,334.4 591.5,330.3 595.5,327.4 599.5,325.1 603.5,327.4 607.5,331.8 611.5,333.5 615.5,334.5 619.5,336.5 623.5,338.8 627.5,339.1 631.5,339.5 635.5,340.4 639.5,343.2 643.5,346.2 647.5,351.4 651.5,355.1 655.5,358.1 659.5,358.2 663.5,356.0 667.5,351.7 671.5,347.8 675.5,340.4 679.5,331.2 683.5,322.1 687.5,316.0 691.5,310.2 695.5,303.8 699.5,298.4 703.5,294.0 707.5,290.4 711.5,285.8 715.5,284.7 719.5,284.2 723.5,281.7 727.5,277.0 731.5,272.8 735.5,269.2 739.5,266.7 743.5,262.4 747.5,259.4 751.5,255.8 755.5,250.2 759.5,245.4 763.5,240.4 767.5,238.2 771.5,233.4 775.5,233.4 779.5,236.6 783.5,243.2 787.5,251.9 791.5,259.0 795.5,265.8 799.5,273.1 803.5,278.4 807.5,284.8 811.5,293.8 815.5,297.8 819.5,301.7 823.5,304.7 827.5,308.2 831.5,308.2 835.5,311.9 839.5,315.6 843.5,318.6 847.5,326.2 851.5,333.5 855.5,339.5 859.5,346.3 863.5,353.2 867.5,361.4 871.5,367.8 875.5,374.1 879.5,375.3 883.5,376.6 887.5,375.4 891.5,372.7 895.5,368.2 899.5,365.6 903.5,360.6 907.5,357.6 911.5,357.6 915.5,360.1 919.5,362.5 923.5,360.4 927.5,361.3 931.5,362.4 935.5,367.8 939.5,373.7 943.5,378.5 947.5,381.5 951.5,387.6 955.5,393.6 959.5,400.7 963.5,407.5 967.5,415.7 971.5,422.5 975.5,429.0 979.5,436.1 983.5,440.0 987.5,442.9 991.5,445.9 995.5,449.1 999.5,453.9 1003.5,459.9 1007.5,465.7 1011.5,466.6 1015.5,467.0 1019.5,466.4 1023.5,465.7 1027.5,461.0 1031.5,456.2 1035.5,451.9 1039.5,453.2 1043.5,454.4 1047.5,457.2 1051.5,458.4 1055.5,464.3 1059.5,469.8 1063.5,473.2 1067.5,480.6 1071.5,489.9 1075.5,497.3 1079.5,500.4 1083.5,504.2 1087.5,508.8 1091.5,512.0 1095.5,512.9 1099.5,516.6 1103.5,517.3 1107.5,516.8 1111.5,511.8 1115.5,506.0 1119.5,501.4 1123.5,496.2 1127.5,486.7 1131.5,475.9 1135.5,464.8 1139.5,455.5 1143.5,446.3 1147.5,438.0 1151.5,430.8 1155.5,422.8 1159.5,417.2 1163.5,413.8 1167.5,410.9 1171.5,406.9 1175.5,401.5 1179.5,395.0 1183.5,390.0 1187.5,388.3 1191.5,388.4 1195.5,393.2 1199.5,396.9 1203.5,401.8 1207.5,407.0 1211.5,411.2 1215.5,413.5 1219.5,417.2 1223.5,421.9 1227.5,428.1 1231.5,431.9 1235.5,437.3 1239.5,442.1 1243.5,446.6 1247.5,451.3 1251.5,451.1 1255.5,453.3 1259.5,454.5 1263.5,455.1 1267.5,455.7 1271.5,457.7 1275.5,458.0 1279.5,457.0 1283.5,456.3 1287.5,455.3 1291.5,453.9 1295.5,453.4 1299.5,452.7 1303.5,453.5 1307.5,454.8 1311.5,452.8 1315.5,449.2 1319.5,445.3 1323.5,439.5 1327.5,432.1 1331.5,426.1 1335.5,420.2 1339.5,413.4" fill="none" stroke="#ff0000" stroke-width="1" stroke-linejoin="bevel"/>
<polyline points="3.5,171.2 7.5,183.8 11.5,204.0 15.5,209.4 19.5,223.1 23.5,246.4 27.5,239.7 31.5,241.2 35.5,246.0 39.5,237.4 43.5,225.6 47.5,232.7 51.5,222.9 55.5,210.3 59.5,198.6 63.5,194.4 67.5,197.2 71.5,199.6 75.5,206.6 79.5,225.7 83.5,237.5 87.5,235.4 91.5,235.6 95.5,224.0 99.5,206.0 103.5,189.2 107.5,184.3 111.5,176.8 115.5,180.3 119.5,181.7 123.5,183.8 127.5,173.5 131.5,169.3 135.5,164.4 139.5,155.6 143.5,162.7 147.5,169.0 151.5,173.7 155.5,178.2 159.5,178.2 163.5,164.7 167.5,147.0 171.5,130.0 175.5,118.5 179.5,118.5 183.5,114.5 187.5,125.5 191.5,144.9 195.5,159.8 199.5,174.6 203.5,189.3 207.5,201.0 211.5,206.9 215.5,207.0 219.5,209.1 223.5,204.9 227.5,197.0 231.5,184.7 235.5,178.6 239.5,167.6 243.5,155.9 247.5,147.7 251.5,144.4 255.5,143.1 259.5,145.9 263.5,160.9 267.5,177.9 271.5,197.5 275.5,213.8 279.5,233.8 283.5,245.6 287.5,256.2 291.5,264.2 295.5,273.1 299.5,270.1 303.5,268.8 307.5,261.7 311.5,250.6 315.5,237.8 319.5,231.0 323.5,226.5 327.5,224.5 331.5,222.9 335.5,217.6 339.5,210.4 343.5,203.0 347.5,199.7 351.5,205.4 355.5,217.0 359.5,227.5 363.5,250.9 367.5,270.8 371.5,282.8 375.5,295.3 379.5,301.6 383.5,289.8 387.5,279.7 391.5,266.9 395.5,252.4 399.5,243.2 403.5,237.5 407.5,230.0 411.5,224.8 415.5,230.4 419.5,236.8 423.5,240.9 427.5,252.3 431.5,269.0 435.5,276.2 439.5,286.7 443.5,302.8 447.5,313.3 451.5,323.2 455.5,322.1 459.5,323.8 463.5,323.1 467.5,321.4 471.5,309.8 475.5,304.3 479.5,296.8 483.5,290.2 487.5,277.5 491.5,272.6 495.5,268.9 499.5,264.6 503.5,259.1 507.5,268.9 511.5,278.9 515.5,287.9 519.5,293.2 523.5,306.2 527.5,313.7 531.5,327.3 535.5,340.8 539.5,356.6 543.5,363.9 547.5,359.6 551.5,343.3 555.5,338.1 559.5,332.9 563.5,328.3 567.5,331.5 571.5,342.0 575.5,339.3 579.5,333.6 583.5,326.4 587.5,321.3 591.5,313.2 595.5,313.0 599.5,316.1 603.5,325.9 607.5,336.1 611.5,347.0 615.5,352.7 619.5,360.2 623.5,363.4 627.5,362.3 631.5,356.3 635.5,350.3 639.5,345.0 643.5,342.0 647.5,347.6 651.5,356.5 655.5,365.5 659.5,368.1 663.5,363.6 667.5,348.0 671.5,332.4 675.5,310.6 679.5,287.7 683.5,267.2 687.5,256.3 691.5,245.0 695.5,242.7 699.5,250.3 703.5,269.0 707.5,284.7 711.5,297.2 715.5,314.4 719.5,323.7 723.5,313.6 727.5,294.9 731.5,274.3 735.5,244.3 739.5,218.3 743.5,202.2 747.5,196.0 751.5,195.0 755.5,197.2 759.5,209.3 763.5,223.1 767.5,237.7 771.5,251.7 775.5,276.6 779.5,289.0 783.5,302.8 787.5,312.6 791.5,316.0 795.5,309.0 799.5,304.5 803.5,294.5 807.5,287.1 811.5,294.7 815.5,299.0 819.5,303.2 823.5,311.3 827.5,317.2 831.5,316.8 835.5,328.5 839.5,341.7 843.5,351.5 847.5,366.6 851.5,379.8 855.5,381.7 859.5,380.3 863.5,383.9 867.5,393.2 871.5,395.1 875.5,400.1 879.5,392.5 883.5,382.8 887.5,355.9 891.5,342.1 895.5,325.2 899.5,324.3 903.5,321.8 907.5,330.0 911.5,339.5 915.5,357.5 919.5,375.2 923.5,392.6 927.5,405.7 931.5,413.5 935.5,414.2 939.5,414.2 943.5,406.5 947.5,398.7 951.5,395.8 955.5,396.6 959.5,397.4 963.5,411.3 967.5,435.0 971.5,455.2 975.5,474.1 979.5,491.9 983.5,496.6 987.5,489.7 991.5,479.8 995.5,470.4 999.5,456.4 1003.5,454.4 1007.5,459.6 1011.5,454.6 1015.5,447.7 1019.5,446.3 1023.5,451.3 1027.5,442.2 1031.5,445.0 1035.5,449.6 1039.5,459.4 1043.5,457.9 1047.5,468.9 1051.5,476.5 1055.5,491.2 1059.5,501.0 1063.5,512.5 1067.5,520.3 1071.5,536.1 1075.5,538.8 1079.5,536.8 1083.5,529.0 1087.5,523.9 1091.5,511.4 1095.5,503.1 1099.5,503.4 1103.5,505.5 1107.5,498.8 1111.5,490.4 1115.5,481.5 1119.5,469.9 1123.5,461.1 1127.5,451.9 1131.5,438.5 1135.5,421.5 1139.5,400.6 1143.5,384.1 1147.5,375.1 1151.5,376.8 1155.5,385.7 1159.5,398.2 1163.5,408.0 1167.5,414.4 1171.5,414.5 1175.5,410.3 1179.5,398.9 1183.5,385.3 1187.5,375.2 1191.5,369.6 1195.5,377.2 1199.5,389.4 1203.5,408.0 1207.5,429.2 1211.5,449.6 1215.5,455.3 1219.5,464.9 1223.5,470.6 1227.5,473.5 1231.5,468.4 1235.5,465.4 1239.5,455.0 1243.5,444.4 1247.5,434.6 1251.5,430.8 1255.5,434.3 1259.5,442.8 1263.5,453.2 1267.5,461.9 1271.5,474.0 1275.5,478.0 1279.5,477.5 1283.5,476.7 1287.5,467.4 1291.5,454.6 1295.5,442.2 1299.5,432.3 1303.5,426.8 1307.5,429.5 1311.5,431.3 1315.5,431.0 1319.5,432.7 1323.5,422.8 1327.5,410.3 1331.5,403.1 1335.5,396.1 1339.5,387.2" fill="none" stroke="#ffa500" stroke-width="1" stroke-linejoin="bevel"/>
<rect x="3" y="331" width="1680" height="2" fill="#ff0000"/>
<rect x="3" y="407" width="1680" height="2" fill="#ff0000"/>
<rect x="3" y="483" width="1680" height="2" fill="#00ff00"/>
<rect x="3" y="574" width="1680" height="2" fill="#0000cd"/>
<rect x="2" y="329" width="6" height="6" fill="#ff0000"/>
<rect x="4" y="331" width="2" height="2" fill="#ffffff"/>
<rect x="1677" y="329" width="6" height="6" fill="#ff0000"/>
<rect x="1679" y="331" width="2" height="2" fill="#ffffff"/>
<path d="M1341 25h9l-4.5 5z" fill="#c0c0c0" shape-rendering="auto"/>
<rect x="2" y="24" width="1682" height="1" fill="#000"/>
<rect x="2" y="591" width="1682" height="1" fill="#000"/>
<rect x="2" y="24" width="1" height="568" fill="#000"/>
<rect x="1683" y="24" width="1" height="568" fill="#000"/>
<rect x="2" y="593" width="1682" height="1" fill="#000"/>
<rect x="2" y="697" width="1682" height="1" fill="#000"/>
<rect x="2" y="593" width="1" height="105" fill="#000"/>
<rect x="1683" y="593" width="1" height="105" fill="#000"/>
<rect x="2" y="699" width="1682" height="1" fill="#000"/>
<rect x="2" y="802" width="1682" height="1" fill="#000"/>
<rect x="2" y="699" width="1" height="104" fill="#000"/>
<rect x="1683" y="699" width="1" height="104" fill="#000"/>
<rect x="1683" y="331" width="1" height="2" fill="#ff0000"/>
<rect x="1683" y="379" width="1" height="1" fill="#c0c0c0"/>
<rect x="1683" y="407" width="1" height="2" fill="#ff0000"/>
<rect x="1683" y="483" width="1" height="2" fill="#00ff00"/>
<rect x="1683" y="574" width="1" height="2" fill="#0000cd"/>
<rect x="1684" y="27" width="2" height="1" fill="#000"/>
<rect x="1684" y="60" width="2" height="1" fill="#000"/>
<rect x="1684" y="93" width="2" height="1" fill="#000"/>
<rect x="1684" y="126" width="2" height="1" fill="#000"/>
<rect x="1684" y="159" width="2" height="1" fill="#000"/>
<rect x="1684" y="192" width="2" height="1" fill="#000"/>
<rect x="1684" y="225" width="2" height="1" fill="#000"/>
<rect x="1684" y="258" width="2" height="1" fill="#000"/>
<rect x="1684" y="291" width="2" height="1" fill="#000"/>
<rect x="1684" y="324" width="2" height="1" fill="#000"/>
<rect x="1684" y="357" width="2" height="1" fill="#000"/>
<rect x="1684" y="390" width="2" height="1" fill="#000"/>
<rect x="1684" y="423" width="2" height="1" fill="#000"/>
<rect x="1684" y="456" width="2" height="1" fill="#000"/>
<rect x="1684" y="489" width="2" height="1" fill="#000"/>
<rect x="1684" y="522" width="2" height="1" fill="#000"/>
<rect x="1684" y="555" width="2" height="1" fill="#000"/>
<rect x="1684" y="588" width="2" height="1" fill="#000"/>
<path d="M3 625.5H1683" stroke="#c0c0c0" stroke-width="1" stroke-dasharray="3 3" fill="none"/>
<path d="M3 666.5H1683" stroke="#c0c0c0" stroke-width="1" stroke-dasharray="3 3" fill="none"/>
<polyline points="3.5,644.3 7.5,652.2 11.5,653.5 15.5,652.2 19.5,656.5 23.5,657.7 27.5,645.7 31.5,651.5 35.5,652.3 39.5,648.6 43.5,647.9 47.5,649.1 51.5,644.8 55.5,643.8 59.5,640.7 63.5,645.6 67.5,651.5 71.5,646.7 75.5,648.8 79.5,653.4 83.5,652.6 87.5,648.8 91.5,645.5 95.5,639.9 99.5,640.7 103.5,640.8 107.5,646.6 111.5,641.6 115.5,643.4 119.5,642.6 123.5,643.5 127.5,639.2 131.5,638.6 135.5,640.2 139.5,636.3 143.5,651.1 147.5,646.2 151.5,644.3 155.5,645.5 159.5,638.7 163.5,641.6 167.5,635.0 171.5,634.0 175.5,640.0 179.5,641.7 183.5,641.4 187.5,645.1 191.5,650.4 195.5,652.1 199.5,653.6 203.5,653.0 207.5,654.0 211.5,654.9 215.5,650.8 219.5,654.3 223.5,647.0 227.5,644.6 231.5,641.5 235.5,644.3 239.5,643.4 243.5,636.5 247.5,637.9 251.5,639.8 255.5,645.1 259.5,648.5 263.5,652.9 267.5,655.8 271.5,659.2 275.5,660.2 279.5,665.2 283.5,660.3 287.5,661.8 291.5,662.9 295.5,664.5 299.5,657.4 303.5,654.9 307.5,650.0 311.5,646.9 315.5,647.4 319.5,648.8 323.5,649.3 327.5,647.2 331.5,644.3 335.5,639.9 339.5,638.9 343.5,639.4 347.5,644.0 351.5,653.8 355.5,656.6 359.5,653.6 363.5,665.8 367.5,664.5 371.5,663.1 375.5,665.4 379.5,653.5 383.5,647.6 387.5,648.6 391.5,644.5 395.5,645.9 399.5,642.7 403.5,641.1 407.5,640.0 411.5,638.6 415.5,653.5 419.5,650.9 423.5,646.6 427.5,653.0 431.5,656.7 435.5,658.8 439.5,659.8 443.5,661.4 447.5,662.0 451.5,664.9 455.5,652.7 459.5,656.5 463.5,655.8 467.5,655.3 471.5,647.2 475.5,644.4 479.5,646.9 483.5,647.5 487.5,640.0 491.5,641.9 495.5,640.6 499.5,642.6 503.5,641.9 507.5,652.9 511.5,654.7 515.5,651.5 519.5,648.4 523.5,656.1 527.5,659.1 531.5,665.1 535.5,661.8 539.5,661.8 543.5,659.6 547.5,648.5 551.5,644.0 555.5,652.6 559.5,652.6 563.5,651.7 567.5,650.9 571.5,654.2 575.5,648.5 579.5,645.0 583.5,642.5 587.5,644.4 591.5,644.6 595.5,649.1 599.5,649.3 603.5,654.8 607.5,656.9 611.5,657.8 615.5,654.8 619.5,657.2 623.5,657.4 627.5,652.9 631.5,646.3 635.5,643.6 639.5,648.0 643.5,651.5 647.5,658.9 651.5,657.7 655.5,654.7 659.5,648.8 663.5,642.2 667.5,636.6 671.5,635.8 675.5,628.5 679.5,625.0 683.5,623.5 687.5,631.0 691.5,630.1 695.5,632.0 699.5,639.7 703.5,650.1 707.5,651.8 711.5,646.8 715.5,652.6 719.5,649.4 723.5,639.4 727.5,634.3 731.5,630.4 735.5,628.3 739.5,629.7 743.5,629.3 747.5,633.1 751.5,632.4 755.5,632.1 759.5,645.4 763.5,646.4 767.5,650.1 771.5,648.5 775.5,657.6 779.5,656.0 783.5,657.9 787.5,657.5 791.5,648.4 795.5,648.5 799.5,649.6 803.5,646.1 807.5,648.7 811.5,655.8 815.5,651.8 819.5,652.7 823.5,653.7 827.5,653.8 831.5,654.8 835.5,663.1 839.5,665.1 843.5,661.1 847.5,665.4 851.5,663.8 855.5,659.7 859.5,658.6 863.5,661.0 867.5,669.3 871.5,657.8 875.5,658.2 879.5,644.1 883.5,644.5 887.5,639.4 891.5,644.1 895.5,641.9 899.5,644.5 903.5,643.4 907.5,648.0 911.5,653.4 915.5,658.0 919.5,659.6 923.5,657.9 927.5,658.0 931.5,658.7 935.5,657.1 939.5,658.6 943.5,646.9 947.5,646.8 951.5,653.0 955.5,655.4 959.5,656.8 963.5,660.4 967.5,667.3 971.5,668.7 975.5,669.5 979.5,669.6 983.5,656.7 987.5,654.3 991.5,653.4 995.5,655.3 999.5,649.7 1003.5,652.8 1007.5,657.8 1011.5,645.5 1015.5,645.5 1019.5,646.9 1023.5,655.4 1027.5,646.7 1031.5,647.4 1035.5,649.2 1039.5,654.8 1043.5,652.5 1047.5,655.6 1051.5,652.7 1055.5,659.6 1059.5,660.8 1063.5,660.1 1067.5,660.3 1071.5,664.3 1075.5,658.8 1079.5,654.9 1083.5,648.0 1087.5,650.6 1091.5,648.6 1095.5,648.6 1099.5,654.2 1103.5,648.9 1107.5,642.8 1111.5,639.6 1115.5,639.2 1119.5,642.7 1123.5,641.0 1127.5,635.1 1131.5,629.4 1135.5,626.8 1139.5,626.2 1143.5,630.2 1147.5,631.5 1151.5,635.7 1155.5,639.9 1159.5,643.0 1163.5,643.1 1167.5,640.5 1171.5,636.9 1175.5,635.9 1179.5,631.3 1183.5,629.6 1187.5,631.4 1191.5,633.5 1195.5,649.9 1199.5,649.6 1203.5,654.2 1207.5,657.8 1211.5,658.1 1215.5,654.3 1219.5,658.0 1223.5,658.5 1227.5,659.4 1231.5,648.2 1235.5,647.5 1239.5,642.9 1243.5,643.2 1247.5,645.9 1251.5,643.5 1255.5,652.5 1259.5,653.9 1263.5,656.4 1267.5,656.6 1271.5,658.5 1275.5,656.1 1279.5,650.5 1283.5,653.1 1287.5,641.1 1291.5,639.0 1295.5,638.0 1299.5,636.9 1303.5,646.8 1307.5,646.6 1311.5,642.8 1315.5,638.9 1319.5,641.0 1323.5,634.7 1327.5,631.9 1331.5,636.4 1335.5,633.3 1339.5,632.8" fill="none" stroke="#1e90ff" stroke-width="1" stroke-linejoin="bevel"/>
<path fill="#c0c0c0" d="M3 748h1v17h-1zM7 748h1v19h-1zM11 748h1v22h-1zM15 748h1v24h-1zM19 748h1v28h-1zM23 748h1v33h-1zM27 748h1v27h-1zM31 748h1v28h-1zM35 748h1v29h-1zM39 748h1v27h-1zM43 748h1v24h-1zM47 748h1v22h-1zM51 748h1v17h-1zM55 748h1v13h-1zM59 748h1v6h-1zM63 748h1v5h-1zM67 748h1v8h-1zM71 748h1v7h-1zM75 748h1v8h-1zM79 748h1v13h-1zM83 748h1v16h-1zM87 748h1v15h-1zM91 748h1v12h-1zM95 748h1v5h-1zM99 747h1v2h-1zM103 743h1v6h-1zM107 744h1v5h-1zM111 741h1v8h-1zM115 740h1v9h-1zM119 738h1v11h-1zM123 738h1v11h-1zM127 735h1v14h-1zM131 732h1v17h-1zM135 731h1v18h-1zM139 727h1v22h-1zM143 734h1v15h-1zM147 736h1v13h-1zM151 736h1v13h-1zM155 738h1v11h-1zM159 733h1v16h-1zM163 732h1v17h-1zM167 726h1v23h-1zM171 720h1v29h-1zM175 720h1v29h-1zM179 721h1v28h-1zM183 722h1v27h-1zM187 725h1v24h-1zM191 731h1v18h-1zM195 738h1v11h-1zM199 744h1v5h-1zM203 748h1v2h-1zM207 748h1v6h-1zM211 748h1v10h-1zM215 748h1v11h-1zM219 748h1v14h-1zM223 748h1v12h-1zM227 748h1v9h-1zM231 748h1v5h-1zM235 748h1v3h-1zM239 748h1v1h-1zM243 743h1v6h-1zM247 739h1v10h-1zM251 737h1v12h-1zM255 738h1v11h-1zM259 741h1v8h-1zM263 745h1v4h-1zM267 748h1v4h-1zM271 748h1v10h-1zM275 748h1v15h-1zM279 748h1v23h-1zM283 748h1v27h-1zM287 748h1v31h-1zM291 748h1v35h-1zM295 748h1v38h-1zM299 748h1v38h-1zM303 748h1v36h-1zM307 748h1v32h-1zM311 748h1v28h-1zM315 748h1v24h-1zM319 748h1v21h-1zM323 748h1v19h-1zM327 748h1v17h-1zM331 748h1v13h-1zM335 748h1v9h-1zM339 748h1v5h-1zM343 748h1v2h-1zM347 748h1v1h-1zM351 748h1v4h-1zM355 748h1v7h-1zM359 748h1v9h-1zM363 748h1v17h-1zM367 748h1v23h-1zM371 748h1v27h-1zM375 748h1v31h-1zM379 748h1v30h-1zM383 748h1v26h-1zM387 748h1v23h-1zM391 748h1v19h-1zM395 748h1v16h-1zM399 748h1v12h-1zM403 748h1v8h-1zM407 748h1v4h-1zM411 747h1v2h-1zM415 748h1v4h-1zM419 748h1v5h-1zM423 748h1v5h-1zM427 748h1v7h-1zM431 748h1v12h-1zM435 748h1v16h-1zM439 748h1v20h-1zM443 748h1v25h-1zM447 748h1v28h-1zM451 748h1v32h-1zM455 748h1v30h-1zM459 748h1v31h-1zM463 748h1v31h-1zM467 748h1v30h-1zM471 748h1v26h-1zM475 748h1v21h-1zM479 748h1v18h-1zM483 748h1v16h-1zM487 748h1v10h-1zM491 748h1v7h-1zM495 748h1v3h-1zM499 748h1v1h-1zM503 746h1v3h-1zM507 748h1v2h-1zM511 748h1v6h-1zM515 748h1v7h-1zM519 748h1v7h-1zM523 748h1v11h-1zM527 748h1v15h-1zM531 748h1v23h-1zM535 748h1v27h-1zM539 748h1v30h-1zM543 748h1v31h-1zM547 748h1v28h-1zM551 748h1v22h-1zM555 748h1v22h-1zM559 748h1v22h-1zM563 748h1v21h-1zM567 748h1v20h-1zM571 748h1v21h-1zM575 748h1v19h-1zM579 748h1v15h-1zM583 748h1v11h-1zM587 748h1v8h-1zM591 748h1v6h-1zM595 748h1v7h-1zM599 748h1v7h-1zM603 748h1v9h-1zM607 748h1v12h-1zM611 748h1v15h-1zM615 748h1v16h-1zM619 748h1v17h-1zM623 748h1v19h-1zM627 748h1v18h-1zM631 748h1v15h-1zM635 748h1v12h-1zM639 748h1v11h-1zM643 748h1v11h-1zM647 748h1v14h-1zM651 748h1v16h-1zM655 748h1v17h-1zM659 748h1v15h-1zM663 748h1v11h-1zM667 748h1v6h-1zM671 748h1v1h-1zM675 739h1v10h-1zM679 731h1v18h-1zM683 723h1v26h-1zM687 719h1v30h-1zM691 716h1v33h-1zM695 715h1v34h-1zM699 717h1v32h-1zM703 724h1v25h-1zM707 730h1v19h-1zM711 733h1v16h-1zM715 739h1v10h-1zM719 742h1v7h-1zM723 739h1v10h-1zM727 732h1v17h-1zM731 725h1v24h-1zM735 717h1v32h-1zM739 712h1v37h-1zM743 708h1v41h-1zM747 707h1v42h-1zM751 706h1v43h-1zM755 705h1v44h-1zM759 711h1v38h-1zM763 717h1v32h-1zM767 724h1v25h-1zM771 729h1v20h-1zM775 739h1v10h-1zM779 745h1v4h-1zM783 748h1v5h-1zM787 748h1v10h-1zM791 748h1v10h-1zM795 748h1v10h-1zM799 748h1v10h-1zM803 748h1v8h-1zM807 748h1v8h-1zM811 748h1v12h-1zM815 748h1v13h-1zM819 748h1v14h-1zM823 748h1v16h-1zM827 748h1v16h-1zM831 748h1v17h-1zM835 748h1v23h-1zM839 748h1v28h-1zM843 748h1v30h-1zM847 748h1v35h-1zM851 748h1v38h-1zM855 748h1v38h-1zM859 748h1v37h-1zM863 748h1v38h-1zM867 748h1v43h-1zM871 748h1v43h-1zM875 748h1v43h-1zM879 748h1v35h-1zM883 748h1v28h-1zM887 748h1v20h-1zM891 748h1v15h-1zM895 748h1v10h-1zM899 748h1v8h-1zM903 748h1v5h-1zM907 748h1v5h-1zM911 748h1v8h-1zM915 748h1v14h-1zM919 748h1v20h-1zM923 748h1v23h-1zM927 748h1v26h-1zM931 748h1v28h-1zM935 748h1v28h-1zM939 748h1v30h-1zM943 748h1v25h-1zM947 748h1v22h-1zM951 748h1v22h-1zM955 748h1v23h-1zM959 748h1v24h-1zM963 748h1v27h-1zM967 748h1v34h-1zM971 748h1v41h-1zM975 748h1v46h-1zM979 748h1v50h-1zM983 748h1v48h-1zM987 748h1v45h-1zM991 748h1v41h-1zM995 748h1v39h-1zM999 748h1v35h-1zM1003 748h1v32h-1zM1007 748h1v33h-1zM1011 748h1v27h-1zM1015 748h1v23h-1zM1019 748h1v19h-1zM1023 748h1v21h-1zM1027 748h1v18h-1zM1031 748h1v16h-1zM1035 748h1v15h-1zM1039 748h1v18h-1zM1043 748h1v19h-1zM1047 748h1v21h-1zM1051 748h1v21h-1zM1055 748h1v26h-1zM1059 748h1v31h-1zM1063 748h1v33h-1zM1067 748h1v35h-1zM1071 748h1v39h-1zM1075 748h1v40h-1zM1079 748h1v38h-1zM1083 748h1v33h-1zM1087 748h1v30h-1zM1091 748h1v27h-1zM1095 748h1v24h-1zM1099 748h1v24h-1zM1103 748h1v22h-1zM1107 748h1v16h-1zM1111 748h1v10h-1zM1115 748h1v5h-1zM1119 748h1v2h-1zM1123 746h1v3h-1zM1127 741h1v8h-1zM1131 732h1v17h-1zM1135 723h1v26h-1zM1139 716h1v33h-1zM1143 713h1v36h-1zM1147 711h1v38h-1zM1151 711h1v38h-1zM1155 714h1v35h-1zM1159 717h1v32h-1zM1163 721h1v28h-1zM1167 722h1v27h-1zM1171 722h1v27h-1zM1175 722h1v27h-1zM1179 719h1v30h-1zM1183 716h1v33h-1zM1187 715h1v34h-1zM1191 715h1v34h-1zM1195 722h1v27h-1zM1199 728h1v21h-1zM1203 734h1v15h-1zM1207 742h1v7h-1zM1211 748h1v1h-1zM1215 748h1v5h-1zM1219 748h1v9h-1zM1223 748h1v13h-1zM1227 748h1v17h-1zM1231 748h1v15h-1zM1235 748h1v13h-1zM1239 748h1v10h-1zM1243 748h1v7h-1zM1247 748h1v6h-1zM1251 748h1v4h-1zM1255 748h1v6h-1zM1259 748h1v9h-1zM1263 748h1v11h-1zM1267 748h1v14h-1zM1271 748h1v16h-1zM1275 748h1v17h-1zM1279 748h1v16h-1zM1283 748h1v16h-1zM1287 748h1v11h-1zM1291 748h1v7h-1zM1295 748h1v3h-1zM1299 746h1v3h-1zM1303 746h1v3h-1zM1307 747h1v2h-1zM1311 745h1v4h-1zM1315 743h1v6h-1zM1319 742h1v7h-1zM1323 738h1v11h-1zM1327 734h1v15h-1zM1331 732h1v17h-1zM1335 729h1v20h-1zM1339 727h1v22h-1z"/>
<polyline points="3.5,783.1 7.5,779.1 11.5,775.5 15.5,772.4 19.5,771.0 23.5,771.0 27.5,771.4 31.5,772.0 35.5,772.8 39.5,773.9 43.5,774.4 47.5,774.4 51.5,773.7 55.5,772.0 59.5,769.0 63.5,766.5 67.5,764.3 71.5,761.8 75.5,759.8 79.5,758.6 83.5,757.8 87.5,757.5 91.5,757.5 95.5,757.3 99.5,756.8 103.5,755.4 107.5,754.3 111.5,752.7 115.5,750.5 119.5,747.8 123.5,745.1 127.5,742.4 131.5,740.2 135.5,738.4 139.5,736.7 143.5,735.6 147.5,735.1 151.5,734.7 155.5,734.6 159.5,734.1 163.5,733.8 167.5,733.1 171.5,732.0 175.5,731.1 179.5,729.6 183.5,728.0 187.5,726.8 191.5,726.1 195.5,726.5 199.5,727.8 203.5,730.4 207.5,734.0 211.5,738.1 215.5,742.2 219.5,746.5 223.5,750.3 227.5,753.1 231.5,754.7 235.5,755.4 239.5,755.4 243.5,754.3 247.5,752.3 251.5,750.0 255.5,747.5 259.5,745.5 263.5,744.3 267.5,744.1 271.5,744.9 275.5,746.4 279.5,749.5 283.5,753.4 287.5,757.9 291.5,762.8 295.5,767.7 299.5,772.1 303.5,775.7 307.5,778.1 311.5,779.5 315.5,779.5 319.5,778.9 323.5,777.5 327.5,775.5 331.5,772.8 335.5,769.5 339.5,766.1 343.5,762.6 347.5,759.7 351.5,757.4 355.5,755.8 359.5,754.7 363.5,754.8 367.5,755.9 371.5,757.9 375.5,760.9 379.5,764.0 383.5,766.9 387.5,769.0 391.5,770.3 395.5,771.1 399.5,770.4 403.5,768.7 407.5,766.1 411.5,762.7 415.5,759.7 419.5,757.4 423.5,755.4 427.5,754.1 431.5,753.7 435.5,754.3 439.5,755.7 443.5,758.0 447.5,761.1 451.5,764.2 455.5,767.0 459.5,769.9 463.5,772.4 467.5,774.5 471.5,775.5 475.5,775.5 479.5,774.8 483.5,773.4 487.5,771.0 491.5,768.4 495.5,765.3 499.5,762.0 503.5,758.6 507.5,756.0 511.5,754.4 515.5,753.2 519.5,752.3 523.5,752.3 527.5,753.2 531.5,755.4 535.5,758.3 539.5,761.7 543.5,764.9 547.5,767.3 551.5,769.0 555.5,770.7 559.5,771.9 563.5,772.7 567.5,772.4 571.5,771.7 575.5,770.5 579.5,768.7 583.5,766.8 587.5,765.3 591.5,763.5 595.5,761.8 599.5,760.2 603.5,759.0 607.5,758.0 611.5,757.6 615.5,757.7 619.5,758.4 623.5,759.6 627.5,760.8 631.5,761.8 635.5,762.4 639.5,762.5 643.5,762.4 647.5,762.3 651.5,762.4 655.5,762.4 659.5,762.0 663.5,761.3 667.5,760.2 671.5,758.9 675.5,756.9 679.5,753.8 683.5,749.5 687.5,744.6 691.5,739.3 695.5,734.1 699.5,729.5 703.5,726.3 707.5,724.3 711.5,723.6 715.5,724.5 719.5,726.7 723.5,728.8 727.5,730.6 731.5,731.7 735.5,731.6 739.5,730.3 743.5,727.8 747.5,724.8 751.5,721.1 755.5,717.1 759.5,714.0 763.5,712.3 767.5,712.3 771.5,713.6 775.5,716.6 779.5,720.9 783.5,725.9 787.5,731.7 791.5,737.4 795.5,742.4 799.5,746.9 803.5,750.3 807.5,753.3 811.5,755.6 815.5,757.2 819.5,758.2 823.5,758.8 827.5,759.5 831.5,760.4 835.5,761.8 839.5,764.0 843.5,766.4 847.5,769.0 851.5,771.7 855.5,774.3 859.5,776.7 863.5,779.0 867.5,781.9 871.5,784.2 875.5,785.8 879.5,786.3 883.5,785.5 887.5,783.5 891.5,781.0 895.5,778.0 899.5,774.7 903.5,770.3 907.5,766.1 911.5,762.3 915.5,760.0 919.5,759.1 923.5,759.5 927.5,760.6 931.5,762.6 935.5,764.9 939.5,767.7 943.5,769.9 947.5,771.4 951.5,772.2 955.5,772.5 959.5,772.7 963.5,772.8 967.5,773.6 971.5,775.0 975.5,776.9 979.5,779.7 983.5,782.6 987.5,785.2 991.5,787.2 995.5,788.9 999.5,789.7 1003.5,789.4 1007.5,788.5 1011.5,786.4 1015.5,783.3 1019.5,780.1 1023.5,777.5 1027.5,775.0 1031.5,772.5 1035.5,770.3 1039.5,768.7 1043.5,767.1 1047.5,766.4 1051.5,766.3 1055.5,767.1 1059.5,768.1 1063.5,769.7 1067.5,771.9 1071.5,774.5 1075.5,777.0 1079.5,779.2 1083.5,780.5 1087.5,781.5 1091.5,781.6 1095.5,780.9 1099.5,779.8 1103.5,778.3 1107.5,775.8 1111.5,772.5 1115.5,768.8 1119.5,765.3 1123.5,761.9 1127.5,758.2 1131.5,753.9 1135.5,748.6 1139.5,742.8 1143.5,737.1 1147.5,732.0 1151.5,727.5 1155.5,723.5 1159.5,720.3 1163.5,718.1 1167.5,717.0 1171.5,716.8 1175.5,717.4 1179.5,718.2 1183.5,718.8 1187.5,719.2 1191.5,719.4 1195.5,719.9 1199.5,720.6 1203.5,722.0 1207.5,724.2 1211.5,727.2 1215.5,730.8 1219.5,735.3 1223.5,740.3 1227.5,745.7 1231.5,750.1 1235.5,753.8 1239.5,756.3 1243.5,757.6 1247.5,758.1 1251.5,758.0 1255.5,757.7 1259.5,757.2 1263.5,756.6 1267.5,756.4 1271.5,756.7 1275.5,757.5 1279.5,758.5 1283.5,759.6 1287.5,760.5 1291.5,760.5 1295.5,759.9 1299.5,758.5 1303.5,756.9 1307.5,755.0 1311.5,752.9 1315.5,750.7 1319.5,748.3 1323.5,746.0 1327.5,743.8 1331.5,741.8 1335.5,740.0 1339.5,737.8" fill="none" stroke="#ff0000" stroke-width="1" stroke-linejoin="bevel" stroke-dasharray="3 3"/>
<rect x="1684" y="748" width="2" height="1" fill="#000"/>
<rect x="3" y="803" width="1" height="3" fill="#000"/>
<rect x="67" y="803" width="1" height="3" fill="#000"/>
<rect x="131" y="803" width="1" height="3" fill="#000"/>
<rect x="195" y="803" width="1" height="3" fill="#000"/>
<rect x="259" y="803" width="1" height="3" fill="#000"/>
<rect x="323" y="803" width="1" height="3" fill="#000"/>
<rect x="387" y="803" width="1" height="3" fill="#000"/>
<rect x="451" y="803" width="1" height="3" fill="#000"/>
<rect x="515" y="803" width="1" height="3" fill="#000"/>
<rect x="579" y="803" width="1" height="3" fill="#000"/>
<rect x="643" y="803" width="1" height="3" fill="#000"/>
<rect x="707" y="803" width="1" height="3" fill="#000"/>
<rect x="771" y="803" width="1" height="3" fill="#000"/>
<rect x="835" y="803" width="1" height="3" fill="#000"/>
<rect x="899" y="803" width="1" height="3" fill="#000"/>
<rect x="963" y="803" width="1" height="3" fill="#000"/>
<rect x="1027" y="803" width="1" height="3" fill="#000"/>
<rect x="1091" y="803" width="1" height="3" fill="#000"/>
<rect x="1155" y="803" width="1" height="3" fill="#000"/>
<rect x="1219" y="803" width="1" height="3" fill="#000"/>
<rect x="1283" y="803" width="1" height="3" fill="#000"/>
<path d="M6 31h7.500l-3.750 4.300z" fill="#000" shape-rendering="auto"/>
</svg>
<div class="ax" style="top:22px;color:#000">1.16020</div>
<div class="ax" style="top:55px;color:#000">1.15580</div>
<div class="ax" style="top:88px;color:#000">1.15150</div>
<div class="ax" style="top:121px;color:#000">1.14720</div>
<div class="ax" style="top:154px;color:#000">1.14280</div>
<div class="ax" style="top:187px;color:#000">1.13850</div>
<div class="ax" style="top:220px;color:#000">1.13410</div>
<div class="ax" style="top:253px;color:#000">1.12980</div>
<div class="ax" style="top:286px;color:#000">1.12540</div>
<div class="ax" style="top:319px;color:#000">1.12110</div>
<div class="ax" style="top:352px;color:#000">1.11670</div>
<div class="ax" style="top:385px;color:#000">1.11240</div>
<div class="ax" style="top:418px;color:#000">1.10800</div>
<div class="ax" style="top:451px;color:#000">1.10370</div>
<div class="ax" style="top:484px;color:#000">1.09930</div>
<div class="ax" style="top:517px;color:#000">1.09500</div>
<div class="ax" style="top:550px;color:#000">1.09070</div>
<div class="ax" style="top:583px;color:#000">1.08630</div>
<div class="pb" style="top:326px;background:#ff0000"><span>1.12006</span></div>
<div class="pb" style="top:374px;background:#000000"><span>1.11386</span></div>
<div class="pb" style="top:402px;background:#ff0000"><span>1.11009</span></div>
<div class="pb" style="top:478px;background:#00ff00"><span>1.10008</span></div>
<div class="pb" style="top:569px;background:#0000cd"><span>1.08800</span></div>
<div class="ax ax2" style="top:595px;color:#000">100</div>
<div class="ax ax2" style="top:620px;color:#000">70</div>
<div class="ax ax2" style="top:661px;color:#000">30</div>
<div class="ax ax2" style="top:685px;color:#000">0</div>
<div class="ax ax2" style="top:701px;color:#000">0.00463</div>
<div class="ax ax2" style="top:743px;color:#000">0.00</div>
<div class="ax ax2" style="top:791px;color:#000">-0.005299</div>
<div class="dt" style="left:2px">22 Nov 2018</div>
<div class="dt" style="left:66px">11 Dec 2018</div>
<div class="dt" style="left:130px">29 Dec 2018</div>
<div class="dt" style="left:194px">17 Jan 2019</div>
<div class="dt" style="left:258px">5 Feb 2019</div>
<div class="dt" style="left:322px">23 Feb 2019</div>
<div class="dt" style="left:386px">14 Mar 2019</div>
<div class="dt" style="left:450px">2 Apr 2019</div>
<div class="dt" style="left:514px">20 Apr 2019</div>
<div class="dt" style="left:578px">9 May 2019</div>
<div class="dt" style="left:642px">28 May 2019</div>
<div class="dt" style="left:706px">15 Jun 2019</div>
<div class="dt" style="left:770px">4 Jul 2019</div>
<div class="dt" style="left:834px">23 Jul 2019</div>
<div class="dt" style="left:898px">10 Aug 2019</div>
<div class="dt" style="left:962px">29 Aug 2019</div>
<div class="dt" style="left:1026px">17 Sep 2019</div>
<div class="dt" style="left:1090px">5 Oct 2019</div>
<div class="dt" style="left:1154px">24 Oct 2019</div>
<div class="dt" style="left:1218px">12 Nov 2019</div>
<div class="dt" style="left:1282px">30 Nov 2019</div>
<div class="ttl" style="left:18px;top:27px"><span style="letter-spacing:0.400px">EURUSD,Daily</span>&nbsp;&nbsp;<span style="font-size:9.100px;margin-left:0.800px;word-spacing:0.200px">1.11359 1.11472 1.11335 1.11386</span></div>
<div class="ttl" style="left:7px;top:597px;letter-spacing:0.100px">RSI(14) 63.6066</div>
<div class="ttl" style="left:7px;top:703px;letter-spacing:0.050px">MACD(12,26,9) 0.002079 0.001048</div>
<div id="tabl0"></div><div id="tabs"></div><div id="tabl"></div><div id="tab1"></div>
<div class="tab" style="left:16px;color:#000">EURUSD,Daily</div>
<div class="tab" style="left:118px">USDCHF,Daily</div>
<div class="tab" style="left:219px">AUDUSD,Daily</div>
<div class="tab" style="left:323px">USDCAD,Daily</div>
<div class="tab" style="left:426px">USDCNH,Daily</div>
<div class="tsep" style="left:208px"></div>
<div class="tsep" style="left:312px"></div>
<div class="tsep" style="left:416px"></div>
<div class="tsep" style="left:520px"></div>
<svg width="30" height="10" style="position:absolute;left:1697px;top:829px"><path d="M5 1v7l-3.500 -3.500z" fill="#8c8c8c"/><path d="M21 1v7l3.500 -3.500z" fill="#8c8c8c"/></svg>
</body></html>
